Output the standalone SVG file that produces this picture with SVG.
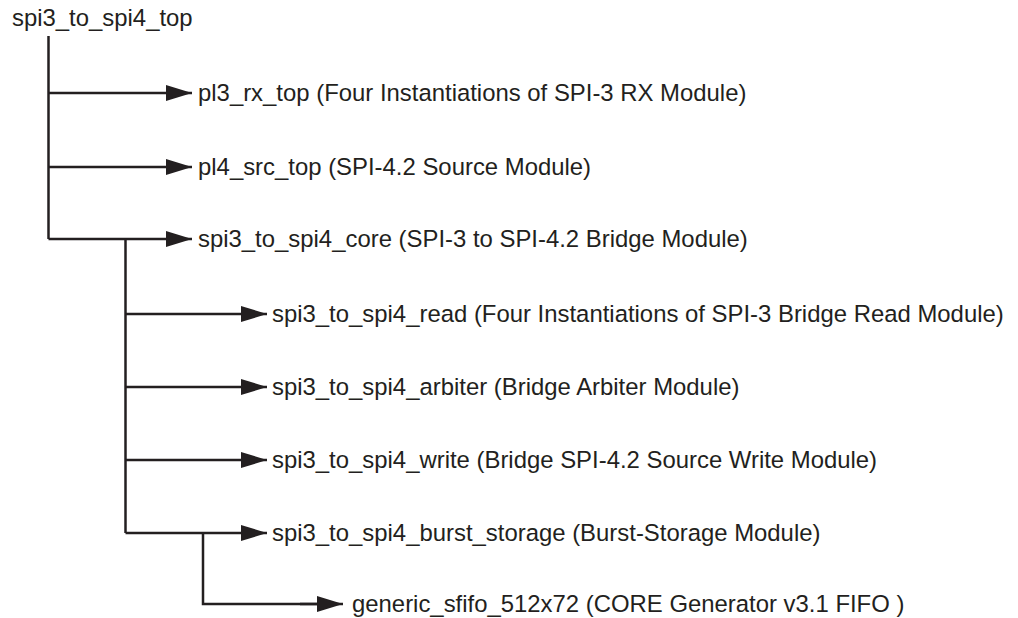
<svg xmlns="http://www.w3.org/2000/svg" width="1018" height="618" viewBox="0 0 1018 618">
<defs>
<marker id="ah" markerUnits="userSpaceOnUse" markerWidth="27" markerHeight="17" refX="26" refY="8" orient="auto">
<path d="M0,0 L26,8 L0,16 Z" fill="#231f20"/>
</marker>
<style>
text{font-family:"Liberation Sans",Arial,sans-serif;font-size:23.9px;fill:#231f20}
.ln{stroke:#231f20;stroke-width:2.5;fill:none}
.ar{stroke:#231f20;stroke-width:2.5;fill:none;marker-end:url(#ah)}
</style>
</defs>
<rect width="1018" height="618" fill="#fff"/>
<g id="connectors">
<path class="ln" d="M48.5,36 V239"/>
<path class="ar" d="M48.5,93 H192"/>
<path class="ar" d="M48.5,167 H192"/>
<path class="ar" d="M48.5,239 H192"/>
<path class="ln" d="M125.5,239 V533"/>
<path class="ar" d="M125.5,314 H267"/>
<path class="ar" d="M125.5,387 H267"/>
<path class="ar" d="M125.5,460 H267"/>
<path class="ar" d="M125.5,533 H267"/>
<path class="ln" d="M203,533 V604 H320"/>
<path class="ar" d="M300,604 H343"/>
</g>
<g id="n_top"><text x="12" y="26">spi3_to_spi4_top</text></g>
<g id="n_pl3"><text x="198" y="101">pl3_rx_top (Four Instantiations of SPI-3 RX Module)</text></g>
<g id="n_pl4"><text x="198" y="175">pl4_src_top (SPI-4.2 Source Module)</text></g>
<g id="n_core"><text x="198" y="247">spi3_to_spi4_core (SPI-3 to SPI-4.2 Bridge Module)</text></g>
<g id="n_read"><text x="272" y="322">spi3_to_spi4_read (Four Instantiations of SPI-3 Bridge Read Module)</text></g>
<g id="n_arb"><text x="272" y="395">spi3_to_spi4_arbiter (Bridge Arbiter Module)</text></g>
<g id="n_write"><text x="272" y="468">spi3_to_spi4_write (Bridge SPI-4.2 Source Write Module)</text></g>
<g id="n_burst"><text x="272" y="541">spi3_to_spi4_burst_storage (Burst-Storage Module)</text></g>
<g id="n_fifo"><text x="352" y="612">generic_sfifo_512x72 (CORE Generator v3.1 FIFO )</text></g>
</svg>
